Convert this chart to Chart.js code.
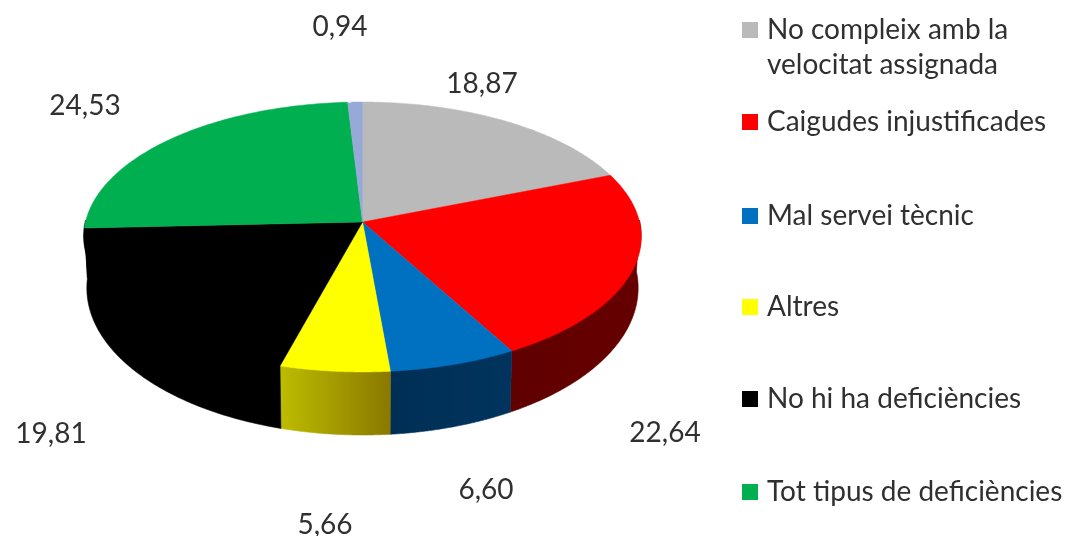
<!DOCTYPE html>
<html>
<head>
<meta charset="utf-8">
<style>html,body{margin:0;padding:0;background:#fff}canvas{display:block}</style>
<script src="https://cdn.jsdelivr.net/npm/chart.js@4"></script>
</head>
<body>
<canvas id="c" width="1066" height="536"></canvas>
<script>
const categories = [
  ["No compleix amb la", "velocitat assignada"],
  ["Caigudes injustificades"],
  ["Mal servei tècnic"],
  ["Altres"],
  ["No hi ha deficiències"],
  ["Tot tipus de deficiències"],
  [""]
];
const values = [18.87, 22.64, 6.60, 5.66, 19.81, 24.53, 0.94];
const topColors = ["#bababa", "#ff0000", "#0070c0", "#ffff00", "#000000", "#00b050", "#97a9d6"];
const sideColors = [["#6a6a6a","#6a6a6a"], ["#600000","#660000"], ["#002f55","#00345e"], ["#bdbd00","#8a7800"], ["#000000","#000000"], ["#000000","#000000"], ["#556080","#556080"]];
const labelPlaces = [[482,84],[665,433],[486,490],[325,525],[51,434],[85,106],[340,27]];
const legendRows = [30,122,216,307,399,492];

const view = {cx:362.5, cy:222, rx:277, ry:133.3, k:0.111, wallDrop:49.7, wallScaleX:0.989, wallScaleY:1.089, steps:90};
const FONT = '28px Lato, "Open Sans", sans-serif';
const INK = '#303030';

function project(a, drop, sx, sy){
  const u = Math.cos(a), v = Math.sin(a), d = 1 - view.k * v;
  return [view.cx + sx * view.rx * u / d, view.cy + drop + sy * view.ry * v / d];
}
function trace(ctx, a0, a1, drop, sx, sy, start){
  for(let i=0;i<=view.steps;i++){
    const p = project(a0 + (a1-a0)*i/view.steps, drop, sx, sy);
    if(i===0 && start) ctx.moveTo(p[0],p[1]); else ctx.lineTo(p[0],p[1]);
  }
}
const pie3d = {
  id:'pie3d',
  beforeDatasetDraw(){ return false; },
  afterDatasetsDraw(chart){
    const ctx = chart.ctx, arcs = chart.getDatasetMeta(0).data;
    ctx.save();
    // walls: only the part facing the viewer
    arcs.forEach((arc,i)=>{
      const a0 = Math.max(arc.startAngle, 0), a1 = Math.min(arc.endAngle, Math.PI);
      if(a1 <= a0) return;
      const p0 = project(a0,0,1,1), p1 = project(a1,0,1,1);
      const g = ctx.createLinearGradient(Math.min(p0[0],p1[0]),0,Math.max(p0[0],p1[0]),0);
      g.addColorStop(0, sideColors[i][0]);
      g.addColorStop(1, sideColors[i][1]);
      ctx.fillStyle = g;
      ctx.strokeStyle = g;
      ctx.lineWidth = 0.6;
      ctx.beginPath();
      trace(ctx,a0,a1,-2,1,1,true);
      trace(ctx,a1,a0,view.wallDrop,view.wallScaleX,view.wallScaleY,false);
      ctx.closePath(); ctx.fill(); ctx.stroke();
    });
    // top faces
    arcs.forEach((arc,i)=>{
      ctx.fillStyle = topColors[i];
      ctx.strokeStyle = topColors[i];
      ctx.lineWidth = 0.5;
      ctx.beginPath();
      ctx.moveTo(view.cx,view.cy);
      trace(ctx,arc.startAngle,arc.endAngle,0,1,1,false);
      ctx.closePath(); ctx.fill(); ctx.stroke();
    });
    // value labels
    ctx.font = FONT; ctx.fillStyle = INK; ctx.textAlign='center'; ctx.textBaseline='middle';
    values.forEach((val,i)=>{
      ctx.fillText(val.toFixed(2).replace('.',','), labelPlaces[i][0], labelPlaces[i][1]);
    });
    // legend
    ctx.textAlign='left';
    legendRows.forEach((y,i)=>{
      ctx.fillStyle = topColors[i];
      ctx.fillRect(742,y-8,16,16);
      ctx.fillStyle = INK;
      categories[i].forEach((line,j)=>ctx.fillText(line,767,y+j*35));
    });
    ctx.restore();
  }
};
new Chart(document.getElementById('c'),{
  type:'pie',
  data:{labels:categories.map(c=>c.join(' ')),datasets:[{data:values,backgroundColor:topColors,borderWidth:0}]},
  options:{
    responsive:false,animation:false,rotation:0,
    layout:{padding:{right:342}},
    plugins:{legend:{display:false},tooltip:{enabled:false},title:{display:false}}
  },
  plugins:[pie3d]
});
</script>
</body>
</html>
